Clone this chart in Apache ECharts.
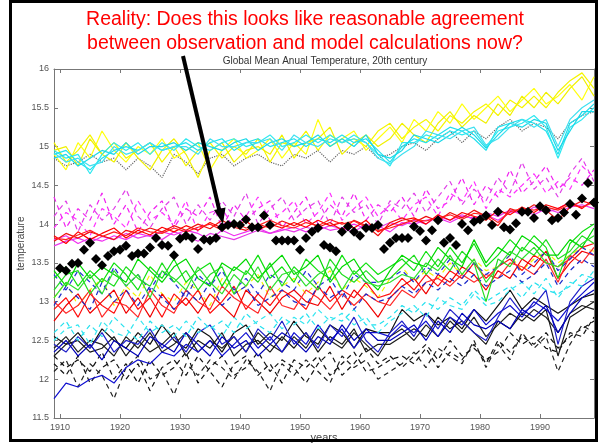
<!DOCTYPE html>
<html>
<head>
<meta charset="utf-8">
<script src="https://cdn.jsdelivr.net/npm/echarts@6/dist/echarts.min.js"></script>
<style>
html,body{margin:0;padding:0;background:#fff;}
#c{width:600px;height:444px;}
</style>
</head>
<body>
<div id="c"></div>
<script>
// ---- data ----
var modelYears = []; // 2-year grid 1909..1999
for (var yy = 1909; yy <= 1999; yy += 2) modelYears.push(yy);
var obsYears = [];
for (var oy = 1910; oy <= 1999; oy++) obsYears.push(oy);
var xTickLabels = [1910, 1920, 1930, 1940, 1950, 1960, 1970, 1980, 1990];

var observed = [
13.43,13.40,13.49,13.50,13.67,13.76,13.55,13.47,13.59,13.65,
13.67,13.72,13.59,13.62,13.62,13.70,13.82,13.73,13.72,13.60,
13.81,13.85,13.82,13.68,13.80,13.79,13.82,13.96,13.99,14.00,
13.99,14.06,13.96,13.96,14.11,13.99,13.79,13.79,13.79,13.79,
13.67,13.82,13.90,13.95,13.73,13.70,13.65,13.90,13.97,13.90,
13.85,13.95,13.95,13.99,13.68,13.76,13.82,13.82,13.82,13.97,
13.91,13.79,13.92,14.05,13.76,13.82,13.73,14.00,13.92,14.03,
14.06,14.11,13.99,14.16,13.96,13.93,14.01,14.16,14.16,14.08,
14.23,14.18,14.05,14.08,14.15,14.26,14.12,14.33,14.53,14.28];

var yellowHi1 = [15.05,14.80,14.95,15.15,14.90,15.05,14.85,14.95,15.05,14.80,15.00,14.75,14.95,15.05,14.85,15.00,14.90,15.10,14.80,15.05,15.00,15.20,14.95,15.15,15.05,15.10,15.00,15.20,15.30,15.10,15.25,15.35,15.20,15.40,15.30,15.45,15.55,15.40,15.60,15.50,15.65,15.50,15.70,15.85,15.95,15.75];
var yellowHi2 = [14.90,14.70,15.05,14.85,15.20,14.95,14.80,15.00,14.90,15.10,14.85,14.95,15.05,14.70,14.95,15.10,14.85,14.95,15.10,14.85,15.05,14.90,15.35,15.00,15.10,15.20,14.95,15.10,15.25,15.05,15.35,15.20,15.45,15.30,15.55,15.35,15.50,15.65,15.45,15.60,15.75,15.55,15.65,15.80,15.60,15.90];
var yellowHi3 = [14.95,15.00,14.75,15.10,14.90,14.80,15.05,14.85,14.70,14.95,15.10,14.90,14.60,14.95,15.05,14.80,14.95,15.00,14.90,15.15,14.85,15.05,15.10,15.25,14.90,15.05,15.15,15.00,15.10,15.30,15.15,15.05,15.30,15.45,15.25,15.40,15.30,15.55,15.40,15.65,15.50,15.70,15.55,15.75,15.90,15.65];

var cyanHi1 = [14.90,14.95,14.80,14.70,14.85,14.95,15.00,14.95,15.05,14.95,15.00,15.05,14.95,15.05,15.10,14.95,15.05,15.10,15.00,15.05,15.10,15.00,15.10,15.05,15.15,15.05,15.10,14.95,14.80,15.00,15.10,15.05,15.15,15.25,15.20,15.10,14.95,15.25,15.30,15.35,15.30,15.20,14.90,15.30,15.40,15.55];
var cyanHi2 = [14.95,14.85,14.90,14.65,14.90,15.05,14.95,15.05,14.90,15.05,14.95,15.10,15.00,14.95,15.05,15.10,15.00,15.05,15.15,15.00,15.05,15.15,15.05,15.15,15.05,15.15,15.05,14.90,14.75,15.05,15.05,15.15,15.10,15.20,15.15,15.20,15.00,15.20,15.25,15.30,15.40,15.25,14.85,15.25,15.35,15.50];
var cyanHi3 = [14.85,14.90,14.75,14.85,14.95,14.90,15.05,14.90,15.00,15.00,15.05,14.95,15.05,15.00,14.95,15.05,15.10,14.95,15.05,15.10,15.00,15.05,15.15,15.00,15.10,15.00,15.15,14.90,14.85,14.95,15.15,15.10,15.05,15.15,15.25,15.15,14.98,15.15,15.30,15.25,15.35,15.30,14.95,15.20,15.45,15.45];
var cyanHi4 = [14.92,14.80,14.85,14.75,14.80,15.00,14.90,14.95,15.05,14.95,15.00,15.00,14.90,15.10,15.00,15.00,15.05,15.05,15.10,14.95,15.15,15.05,15.00,15.10,15.05,15.10,15.05,14.85,14.78,14.90,15.00,15.20,15.15,15.10,15.20,15.25,15.02,15.10,15.25,15.35,15.25,15.35,15.00,15.35,15.50,15.60];

var grayDotted = [14.85,14.75,14.80,14.90,14.80,14.85,14.70,14.85,14.75,14.60,14.90,14.80,14.65,14.85,14.90,14.75,14.85,14.90,14.80,14.75,14.90,14.85,14.95,14.80,14.95,14.90,15.00,14.85,14.90,15.00,15.05,14.95,15.10,15.20,15.05,15.20,15.10,15.25,15.35,15.20,15.30,15.25,15.10,15.30,15.40,15.45];

var magentaDash1 = [14.35,13.95,14.20,14.05,14.40,14.00,14.25,13.90,14.15,14.30,13.95,14.20,14.10,14.35,13.95,14.25,14.05,14.20,14.30,13.95,14.15,14.35,14.00,14.25,14.10,14.40,14.05,14.25,14.15,14.35,14.10,14.45,14.20,14.30,14.60,14.25,14.50,14.35,14.70,14.40,14.55,14.75,14.45,14.60,14.50,14.70];
var magentaDash2 = [14.10,14.30,13.90,14.25,14.05,14.20,14.45,14.10,13.95,14.20,14.35,14.00,14.25,14.05,14.30,14.10,14.40,14.00,14.20,14.35,14.05,14.20,14.30,14.00,14.35,14.15,14.25,14.00,14.30,14.20,14.40,14.15,14.35,14.55,14.25,14.45,14.30,14.60,14.40,14.80,14.45,14.60,14.35,14.65,14.85,14.55];
var magentaDash3 = [13.95,14.15,14.05,13.85,14.20,14.10,13.95,14.30,14.05,14.15,14.00,14.30,13.90,14.15,14.20,13.95,14.10,14.35,14.05,14.15,14.30,14.00,14.15,14.40,14.05,14.20,14.35,14.10,14.25,14.05,14.25,14.35,14.10,14.40,14.30,14.55,14.20,14.45,14.35,14.50,14.65,14.40,14.55,14.45,14.75,14.60];
var magentaSolid1 = [13.80,13.85,13.75,13.82,13.78,13.85,13.80,13.88,13.84,13.90,13.86,13.92,13.88,13.80,13.92,13.85,13.90,13.95,13.88,13.92,13.96,13.90,13.98,13.92,13.95,14.00,13.94,13.98,13.90,14.02,14.00,14.05,14.08,14.02,14.10,14.08,14.12,14.05,14.15,14.18,14.12,14.20,14.15,14.22,14.25,14.20];
var magentaSolid2 = [13.72,13.78,13.82,13.76,13.84,13.80,13.88,13.82,13.86,13.80,13.90,13.85,13.78,13.88,13.84,13.80,13.86,13.92,13.88,13.94,13.90,13.96,13.92,13.98,13.94,13.90,14.00,13.95,14.02,13.98,14.05,14.00,14.10,14.05,14.12,14.06,14.15,14.10,14.18,14.12,14.22,14.15,14.20,14.28,14.22,14.30];

var redHi1 = [13.85,13.75,13.90,13.80,13.88,13.95,13.82,13.92,13.86,13.96,13.90,13.98,13.92,14.02,13.95,13.98,14.04,13.92,14.00,13.95,14.02,13.96,14.05,13.98,14.02,13.95,14.05,13.90,13.98,14.05,14.08,14.00,14.12,14.05,14.15,14.10,14.05,14.18,14.12,14.22,14.15,14.25,14.20,14.28,14.20,14.32];
var redHi2 = [13.78,13.88,13.82,13.90,13.85,13.80,13.92,13.88,13.95,13.90,13.98,13.92,14.00,13.94,14.05,13.96,13.92,14.00,13.95,14.04,13.98,14.06,13.96,14.02,13.92,14.05,13.98,13.85,14.02,14.08,14.02,14.10,14.04,14.15,14.08,14.18,14.10,13.98,14.20,14.15,14.25,14.18,14.05,14.22,14.30,14.25];
var redHi3 = [13.82,13.80,13.86,13.92,13.84,13.90,13.85,13.95,13.90,13.88,13.95,13.90,13.96,14.00,13.92,14.02,13.95,13.98,14.05,13.98,13.95,14.02,13.98,14.06,14.00,14.04,13.96,13.92,13.95,14.00,14.06,14.04,14.08,14.12,14.06,14.14,14.12,14.02,14.16,14.20,14.18,14.22,14.18,14.25,14.22,14.28];

var green1 = [13.30,13.45,13.20,13.40,13.25,13.50,13.35,13.15,13.45,13.30,13.55,13.25,13.40,13.50,13.20,13.45,13.35,13.60,13.30,13.45,13.25,13.55,13.40,13.30,13.60,13.35,13.50,13.35,13.45,13.55,13.40,13.65,13.45,13.70,13.50,13.75,13.45,13.60,13.80,13.65,13.85,13.70,13.30,13.75,13.90,14.00];
var green2 = [13.15,13.35,13.40,13.10,13.30,13.20,13.45,13.30,13.20,13.50,13.25,13.40,13.15,13.35,13.45,13.10,13.40,13.25,13.50,13.20,13.45,13.30,13.15,13.55,13.35,13.25,13.40,13.25,13.30,13.45,13.60,13.35,13.55,13.40,13.65,13.50,13.00,13.55,13.45,13.70,13.60,13.80,13.55,13.65,13.85,13.75];
var green3 = [13.40,13.20,13.50,13.30,13.45,13.35,13.25,13.55,13.40,13.25,13.45,13.55,13.30,13.20,13.50,13.40,13.55,13.30,13.45,13.60,13.35,13.45,13.60,13.25,13.45,13.55,13.30,13.15,13.40,13.60,13.50,13.45,13.70,13.55,13.45,13.80,13.50,13.70,13.60,13.85,13.75,13.60,13.60,13.80,13.70,13.95];
var green4 = [13.05,13.25,13.15,13.35,13.10,13.40,13.20,13.35,13.05,13.40,13.30,13.15,13.45,13.25,13.10,13.35,13.20,13.45,13.15,13.35,13.40,13.20,13.35,13.45,13.15,13.40,13.25,13.20,13.25,13.35,13.30,13.50,13.40,13.60,13.35,13.55,13.25,13.45,13.65,13.55,13.70,13.50,13.45,13.60,13.75,13.85];

var redLo1 = [12.90,13.05,12.80,13.10,12.95,12.85,13.15,12.90,13.05,12.80,13.10,12.95,13.15,12.85,13.00,13.20,12.90,13.10,12.95,13.15,13.05,12.90,13.20,13.00,13.15,13.05,13.25,13.05,13.10,13.30,13.15,13.35,13.20,13.40,13.30,13.50,13.30,13.45,13.55,13.40,13.60,13.50,13.45,13.55,13.70,13.75];
var redLo2 = [12.75,12.95,13.10,12.85,13.00,13.15,12.85,13.05,12.80,13.10,12.90,13.05,12.85,13.10,12.95,12.80,13.15,13.00,12.85,13.05,13.15,13.00,12.95,13.20,12.90,13.15,13.00,12.80,13.05,13.20,13.30,13.10,13.35,13.25,13.45,13.35,13.15,13.40,13.30,13.55,13.45,13.65,13.30,13.50,13.65,13.60];
var redLo3 = [13.00,12.85,12.95,13.15,12.80,13.00,12.95,12.80,13.15,12.95,12.85,13.15,13.00,12.90,13.20,13.05,12.95,12.85,13.20,12.95,12.90,13.15,13.05,12.90,13.10,12.95,13.10,13.00,12.95,13.15,13.05,13.25,13.30,13.20,13.35,13.25,13.35,13.30,13.50,13.45,13.35,13.55,13.25,13.60,13.50,13.70];

var yellowLoDash = [13.05,13.25,12.95,13.15,13.30,12.95,13.20,13.05,13.35,13.10,13.00,13.25,13.15,12.95,13.30,13.10,13.20,13.35,13.05,13.20,13.30,13.10,13.25,13.40,13.15,13.30,13.20,13.05,13.30,13.45,13.25,13.40,13.30,13.50,13.35,13.55,13.40,13.45,13.60,13.40,13.55,13.65,13.50,13.60,13.70,13.65];

var cyanLoDash1 = [12.60,12.75,12.50,12.70,12.55,12.80,12.65,12.50,12.75,12.60,12.70,12.55,12.80,12.65,12.75,12.60,12.85,12.70,12.60,12.80,12.70,12.85,12.65,12.80,12.75,12.90,12.70,12.70,12.80,12.95,12.85,13.00,12.90,13.05,12.95,13.15,13.00,13.10,13.20,13.05,13.25,13.15,13.10,13.20,13.35,13.30];
var cyanLoDash2 = [12.50,12.65,12.70,12.45,12.75,12.60,12.55,12.80,12.60,12.70,12.55,12.75,12.60,12.70,12.55,12.80,12.65,12.75,12.85,12.65,12.80,12.70,12.90,12.75,12.85,12.70,12.80,12.60,12.75,12.85,12.95,12.80,13.05,12.95,12.90,13.10,12.95,13.00,13.15,13.25,13.10,13.30,13.05,13.25,13.20,13.40];

var blue1 = [11.75,11.95,11.90,12.00,12.05,11.95,12.15,12.25,12.20,12.35,12.30,12.45,12.35,12.50,12.30,12.45,12.60,12.40,12.55,12.35,12.60,12.45,12.70,12.50,12.65,12.40,12.60,12.60,12.55,12.70,12.60,12.75,12.55,12.80,12.70,12.90,12.70,12.85,12.95,12.80,13.00,12.90,12.75,12.95,13.10,13.25];
var blue2 = [12.45,12.35,12.55,12.40,12.60,12.35,12.50,12.45,12.65,12.40,12.55,12.35,12.60,12.70,12.45,12.55,12.35,12.65,12.50,12.75,12.45,12.60,12.40,12.70,12.55,12.80,12.50,12.35,12.60,12.75,12.55,12.85,12.65,12.90,12.75,12.60,12.50,12.80,13.05,12.85,12.95,13.15,12.45,13.00,13.20,13.30];
var blue3 = [12.35,12.50,12.30,12.45,12.25,12.50,12.40,12.30,12.55,12.45,12.35,12.60,12.45,12.30,12.55,12.40,12.50,12.30,12.45,12.60,12.50,12.35,12.55,12.45,12.70,12.50,12.65,12.50,12.50,12.60,12.70,12.50,12.75,12.60,12.85,12.70,12.65,12.75,12.65,12.90,12.80,12.95,12.60,12.85,13.05,13.15];
var blueDash1 = [13.35,13.15,13.40,13.25,13.10,13.45,13.20,13.35,13.15,13.40,13.25,13.05,13.35,13.20,13.40,13.15,13.30,13.10,13.35,13.25,13.15,13.40,13.20,13.30,13.05,13.35,13.25,13.25,13.30,13.40,13.25,13.45,13.35,13.55,13.30,13.50,13.35,13.45,13.60,13.35,13.50,13.65,13.40,13.55,13.70,13.60];
var blueDash2 = [12.95,13.20,13.05,12.90,13.25,13.00,13.15,12.95,13.20,13.05,12.90,13.15,13.00,13.25,12.95,13.10,13.20,12.95,13.05,13.15,13.00,12.95,13.20,13.05,13.15,12.90,13.10,13.00,13.05,13.20,13.10,13.25,13.15,13.30,13.20,13.35,13.20,13.30,13.40,13.25,13.35,13.50,13.20,13.40,13.55,13.45];

var black1 = [12.55,12.45,12.60,12.40,12.65,12.50,12.40,12.60,12.45,12.70,12.50,12.40,12.65,12.55,12.35,12.60,12.70,12.45,12.60,12.50,12.75,12.55,12.45,12.70,12.60,12.40,12.65,12.60,12.60,12.90,12.75,12.85,12.70,12.80,12.65,12.90,12.75,12.95,13.15,12.90,13.05,12.95,12.85,12.95,13.05,13.10];
var black2 = [12.40,12.55,12.35,12.50,12.45,12.30,12.55,12.40,12.60,12.35,12.45,12.60,12.35,12.50,12.40,12.55,12.35,12.60,12.45,12.35,12.55,12.40,12.65,12.50,12.40,12.60,12.45,12.30,12.55,12.65,12.50,12.70,12.55,12.75,12.60,12.80,12.55,12.70,12.85,12.75,12.90,12.80,12.60,12.85,12.95,12.90];
var black3 = [12.30,12.45,12.50,12.35,12.40,12.55,12.30,12.50,12.35,12.45,12.60,12.30,12.50,12.40,12.60,12.30,12.45,12.50,12.35,12.55,12.40,12.60,12.35,12.55,12.45,12.65,12.35,12.45,12.45,12.55,12.65,12.55,12.80,12.65,12.75,12.60,12.45,12.75,12.65,12.85,12.75,12.90,12.30,12.80,12.90,13.00];
var blackDash1 = [12.20,12.05,12.30,11.95,12.15,12.25,12.00,12.20,11.85,12.15,12.25,12.05,12.30,12.10,11.90,12.20,12.30,12.05,12.20,11.95,12.25,12.15,12.30,12.05,12.20,12.35,12.10,12.15,12.25,12.30,12.20,12.40,12.15,12.35,12.25,12.45,12.20,12.50,12.35,12.55,12.45,12.60,12.40,12.55,12.65,12.75];
var blackDash2 = [12.10,12.25,11.90,12.20,12.05,11.75,12.15,12.30,12.00,12.10,11.80,12.20,12.05,12.25,12.15,12.00,12.25,12.10,11.85,12.20,12.05,12.25,12.10,11.95,12.30,12.15,12.25,12.00,12.10,12.20,12.35,12.15,12.40,12.30,12.20,12.50,12.15,12.45,12.25,12.60,12.40,12.55,12.10,12.45,12.70,12.60];
var blackDash3 = [12.30,12.15,12.25,12.10,12.35,12.00,12.20,11.95,12.25,12.05,12.15,12.35,11.95,12.15,12.30,12.05,12.15,12.35,12.10,12.25,12.15,11.95,12.20,12.35,12.05,12.20,12.40,12.20,12.30,12.15,12.30,12.45,12.25,12.50,12.30,12.40,12.25,12.35,12.60,12.45,12.55,12.40,12.35,12.60,12.55,12.80];

// ---- chart ----
function pairs(xs, vs) { return vs.map(function (v, i) { return [xs[i], v]; }); }
function ln(vals, color, type, width) {
  return {
    type: 'line', data: pairs(modelYears, vals), symbol: 'none', silent: true,
    lineStyle: { color: color, width: width || 1.2, type: type || 'solid' },
    animation: false, z: 2
  };
}
var DASH = [5, 4];
var series = [
  ln(blackDash1, '#111', DASH), ln(blackDash2, '#222', DASH), ln(blackDash3, '#111', DASH),
  ln(black1, '#111'), ln(black2, '#222'), ln(black3, '#1a1a1a'),
  ln(blue1, '#1010d0'), ln(blue2, '#2020c8'), ln(blue3, '#0000b8'),
  ln(cyanLoDash1, '#22e0ee', DASH), ln(cyanLoDash2, '#33e6f0', DASH),
  ln(yellowLoDash, '#f2f200', DASH),
  ln(redLo1, '#ff1010'), ln(redLo2, '#f00000'), ln(redLo3, '#ff2a2a'),
  ln(blueDash1, '#2030d8', DASH), ln(blueDash2, '#1a28c8', DASH),
  ln(green1, '#10e010'), ln(green2, '#22dd22'), ln(green3, '#00d800'), ln(green4, '#30e030'),
  ln(magentaDash1, '#f020f0', DASH), ln(magentaDash2, '#e040e8', DASH), ln(magentaDash3, '#ff30ff', DASH),
  ln(magentaSolid1, '#f030f0'), ln(magentaSolid2, '#e838e8'),
  ln(redHi1, '#ff0000'), ln(redHi2, '#f01010'), ln(redHi3, '#ff2020'),
  ln(grayDotted, '#666', 'dotted'),
  ln(yellowHi1, '#f5f500'), ln(yellowHi2, '#ffff10'), ln(yellowHi3, '#f0f000'),
  ln(cyanHi1, '#22e0ee'), ln(cyanHi2, '#30e8f0'), ln(cyanHi3, '#1ad8e8'), ln(cyanHi4, '#40e0f0'),
  {
    type: 'scatter', data: pairs(obsYears, observed), symbol: 'diamond', symbolSize: 10,
    itemStyle: { color: '#000', opacity: 1 }, clip: false, silent: true, animation: false, z: 5
  }
];

var chart = echarts.init(document.getElementById('c'), null, { renderer: 'canvas' });
var axisCol = '#777';
var option = {
  backgroundColor: '#fff',
  animation: false,
  grid: { left: 54, top: 69, width: 540, height: 349, containLabel: false, outerBoundsMode: 'none' },
  xAxis: [{
    type: 'value', min: 1909, max: 1999,
    name: 'years', nameLocation: 'middle', nameGap: 14, nameMoveOverlap: false,
    nameTextStyle: { color: '#444', fontSize: 11, fontFamily: 'Liberation Sans' },
    axisLine: { show: true, lineStyle: { color: axisCol } },
    axisTick: { show: true, inside: true, length: 4, lineStyle: { color: axisCol }, customValues: xTickLabels },
    axisLabel: { color: '#555', fontSize: 9, margin: 5, fontFamily: 'Liberation Sans', customValues: xTickLabels,
      formatter: function (v) { return String(v); } },
    splitLine: { show: false }
  }, {
    type: 'value', min: 1909, max: 1999, position: 'top',
    axisLine: { show: true, lineStyle: { color: axisCol } },
    axisTick: { show: true, inside: true, length: 4, lineStyle: { color: axisCol }, customValues: xTickLabels },
    axisLabel: { show: false, customValues: xTickLabels },
    splitLine: { show: false }
  }],
  yAxis: [{
    type: 'value', min: 11.5, max: 16, interval: 0.5,
    name: 'temperature', nameLocation: 'middle', nameGap: 28, nameRotate: 90, nameMoveOverlap: false,
    nameTextStyle: { color: '#444', fontSize: 10, fontFamily: 'Liberation Sans' },
    axisLine: { show: true, lineStyle: { color: axisCol } },
    axisTick: { show: true, inside: true, length: 4, lineStyle: { color: axisCol } },
    axisLabel: { color: '#555', fontSize: 9, margin: 5, fontFamily: 'Liberation Sans' },
    splitLine: { show: false }
  }, {
    type: 'value', min: 11.5, max: 16, interval: 0.5, position: 'right',
    axisLine: { show: true, lineStyle: { color: axisCol } },
    axisTick: { show: true, inside: true, length: 4, lineStyle: { color: axisCol } },
    axisLabel: { show: false },
    splitLine: { show: false }
  }],
  series: series,
  graphic: [
    { type: 'rect', shape: { x: 10.5, y: 1.5, width: 586, height: 439 }, style: { fill: 'none', stroke: '#000', lineWidth: 3 }, z: 100 },
    { type: 'text', x: 305, y: 20, style: { text: 'Reality: Does this looks like reasonable agreement', fill: '#ff0000', font: '19.5px "Liberation Sans", Arial, sans-serif', textAlign: 'center', textVerticalAlign: 'middle' }, z: 100 },
    { type: 'text', x: 305, y: 44, style: { text: 'between observation and model calculations now?', fill: '#ff0000', font: '19.5px "Liberation Sans", Arial, sans-serif', textAlign: 'center', textVerticalAlign: 'middle' }, z: 100 },
    { type: 'text', x: 325, y: 61, style: { text: 'Global Mean Anual Temperature, 20th century', fill: '#333', font: '10px "Liberation Sans", Arial, sans-serif', textAlign: 'center', textVerticalAlign: 'middle' }, z: 100 },
    { type: 'line', shape: { x1: 183, y1: 56, x2: 219.5, y2: 211 }, style: { stroke: '#000', lineWidth: 4 }, z: 101 },
    { type: 'polygon', shape: { points: [[223, 224], [225.5, 207.5], [214, 210]] }, style: { fill: '#000' }, z: 101 }
  ]
};
chart.setOption(option);
</script>
</body>
</html>
